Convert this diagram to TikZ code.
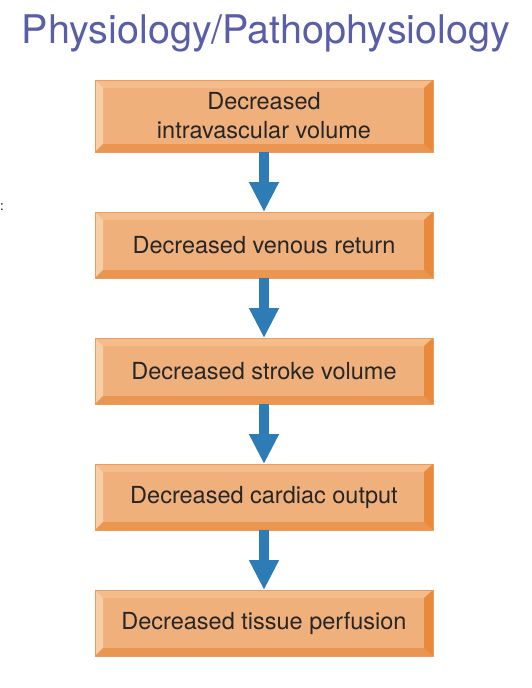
\documentclass[tikz,border=0pt]{standalone}
\usepackage{fontspec}
\newfontfamily\hv{TeX Gyre Heros}
\usetikzlibrary{arrows.meta,backgrounds,calc}
\definecolor{face}{HTML}{F0B07C}
\definecolor{bevtop}{HTML}{F4BD8B}
\definecolor{bevleft}{HTML}{F8CEA6}
\definecolor{bevbot}{HTML}{EA9550}
\definecolor{bevright}{HTML}{E8893C}
\definecolor{edge}{HTML}{EC9C5C}
\definecolor{shadowgray}{HTML}{D9DADD}
\definecolor{arrowblue}{HTML}{2D7CB6}
\definecolor{titleblue}{HTML}{5A5EA6}
\definecolor{txt}{HTML}{262626}
\begin{document}
\begin{tikzpicture}[x=1pt,y=-1pt,
  flowbox/.style={rectangle, fill=face, draw=none, inner sep=0pt, outer sep=0pt,
    minimum width=338pt, minimum height=66pt, align=center, text=txt,
    font=\hv\fontsize{23.5}{29}\selectfont},
  flowarrow/.style={draw=arrowblue, line width=10pt,
    -{Triangle[width=28pt,length=30pt]}}]
\useasboundingbox (0,0) rectangle (532,688);
\fill[white] (0,0) rectangle (532,688);
\node[text=titleblue, font=\hv\fontsize{39.5}{39.5}\selectfont, anchor=base] (title) at (266,43) {Physiology/Pathophysiology};
\node[anchor=west, text=black, font=\hv\fontsize{13}{13}\selectfont, inner sep=0pt] (mark) at (0,207) {:};
\node[flowbox, minimum height=72pt] (b1) at (264,116) {};
\node[flowbox] (b2) at (264,245) {};
\node[flowbox] (b3) at (264,371) {};
\node[flowbox] (b4) at (264,497) {};
\node[flowbox] (b5) at (264,623) {};
\begin{scope}[on background layer]
\foreach \b in {b1,b2,b3,b4,b5}{
  \fill[shadowgray] ($(\b.north west)+(11,14)$) rectangle ($(\b.south east)+(10,14)$);
}
\end{scope}
\foreach \b in {b1,b2,b3,b4,b5}{
  \coordinate (tl) at (\b.north west);
  \coordinate (tr) at (\b.north east);
  \coordinate (bl) at (\b.south west);
  \coordinate (br) at (\b.south east);
  \coordinate (itl) at ($(tl)+(8,8)$);
  \coordinate (itr) at ($(tr)+(-9,8)$);
  \coordinate (ibl) at ($(bl)+(8,-8)$);
  \coordinate (ibr) at ($(br)+(-9,-8)$);
  \fill[bevtop] (tl) -- (tr) -- (itr) -- (itl) -- cycle;
  \fill[bevleft] (tl) -- (itl) -- (ibl) -- (bl) -- cycle;
  \fill[bevbot] (bl) -- (ibl) -- (ibr) -- (br) -- cycle;
  \fill[bevright] (tr) -- (br) -- (ibr) -- (itr) -- cycle;
  \draw[edge, line width=0.8pt] (tl) rectangle (br);
}
\node[flowbox, fill=none, minimum height=72pt] (t1) at (b1.center) {Decreased\\intravascular volume};
\node[flowbox, fill=none] (t2) at (b2.center) {Decreased venous return};
\node[flowbox, fill=none] (t3) at (b3.center) {Decreased stroke volume};
\node[flowbox, fill=none] (t4) at (b4.center) {Decreased cardiac output};
\node[flowbox, fill=none] (t5) at (b5.center) {Decreased tissue perfusion};
\draw[flowarrow] (b1.south) -- (b2.north);
\draw[flowarrow] (b2.south) -- (b3.north);
\draw[flowarrow] (b3.south) -- (b4.north);
\draw[flowarrow] (b4.south) -- (b5.north);
\end{tikzpicture}
\end{document}
